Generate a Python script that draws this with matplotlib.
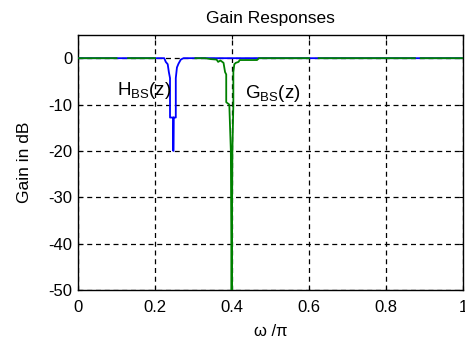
import numpy as np
import matplotlib
matplotlib.use("Agg")
import matplotlib.pyplot as plt

plt.rcParams['font.family'] = ['Liberation Sans', 'DejaVu Sans']
plt.rcParams['axes.unicode_minus'] = False
plt.rcParams['mathtext.fontset'] = 'custom'
plt.rcParams['mathtext.rm'] = 'Liberation Sans'
plt.rcParams['mathtext.it'] = 'Liberation Sans'

# Blue: H_BS(z) gain (dB) vs normalized frequency
h_w = [0.0, 0.224, 0.228, 0.233, 0.236, 0.239, 0.239, 0.2476, 0.2476, 0.2482,
       0.254, 0.254, 0.257, 0.261, 0.267, 0.274, 1.0]
h_db = [0.0, 0.0, -0.8, -1.3, -3.0, -4.3, -12.8, -12.8, -20.0, -12.8,
        -12.8, -4.3, -2.0, -1.2, -0.3, 0.0, 0.0]

# Green: G_BS(z) gain (dB); NaN marks where it is hidden under the blue curve
g_w = [0.0, 0.10, np.nan, 0.13, 0.20, np.nan, 0.305, 0.33, 0.345, 0.36, 0.364,
       0.37, 0.378, 0.382, 0.385, 0.385, 0.393, 0.397, 0.398, 0.399, 0.400,
       0.401, 0.4035, 0.4035, 0.406, 0.41, 0.417, 0.42, 0.465, 0.47, 0.60,
       np.nan, 0.625, 0.875, np.nan, 0.89, 1.0]
g_db = [0.0, 0.0, np.nan, 0.0, 0.0, np.nan, 0.0, 0.0, -0.2, -0.3, -0.8,
        -0.5, -1.0, -3.0, -3.5, -9.5, -10.0, -20.0, -35.0, -52.0, -35.0,
        -20.0, -10.0, -3.0, -1.3, -1.0, -0.8, -0.4, -0.4, 0.0, 0.0,
        np.nan, 0.0, 0.0, np.nan, 0.0, 0.0]

x_ticks = [0, 0.2, 0.4, 0.6, 0.8, 1]
x_ticklabels = ['0', '0.2', '0.4', '0.6', '0.8', '1']
y_ticks = [-50, -40, -30, -20, -10, 0]
y_ticklabels = ['-50', '-40', '-30', '-20', '-10', '0']

fig = plt.figure(figsize=(4.65, 3.43), dpi=100)
ax = fig.add_axes([78/465, 1-290/343, (463-78)/465, (290-35)/343])

ax.plot(h_w, h_db, color='#0000ff', lw=1.3, zorder=3)
ax.plot(g_w, g_db, color='#008000', lw=1.3, zorder=4)

ax.set_xlim(0, 1)
ax.set_ylim(-50, 5)
ax.set_xticks(x_ticks)
ax.set_xticklabels(x_ticklabels)
ax.set_yticks(y_ticks)
ax.set_yticklabels(y_ticklabels)
ax.tick_params(direction='in', length=3, width=0.8, labelsize=12,
               top=True, right=True)
ax.tick_params(axis='x', pad=7)
ax.tick_params(axis='y', pad=4)
ax.grid(True, color='black', linestyle=(0, (4, 3)), linewidth=0.9, zorder=2)
for s in ax.spines.values():
    s.set_linewidth(1.0)

ax.set_title('Gain Responses', fontsize=12.5, pad=9)
ax.set_xlabel(r'ω /π', fontsize=12, labelpad=7)
ax.set_ylabel('Gain in dB', fontsize=12.5, labelpad=12)

ax.text(0.10, -8, r'$\mathrm{H_{BS}(z)}$', fontsize=13.5, zorder=5)
ax.text(0.434, -8.5, r'$\mathrm{G_{BS}(z)}$', fontsize=13.5, zorder=5)

fig.savefig('out.png', dpi=100)
